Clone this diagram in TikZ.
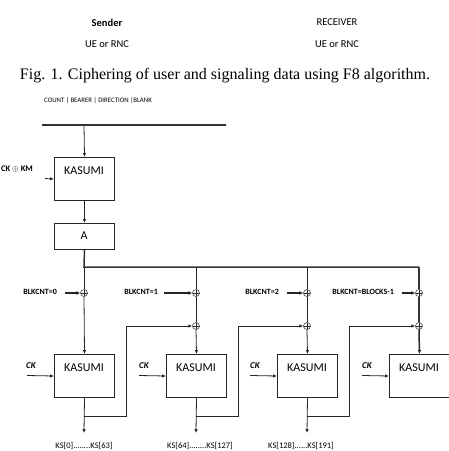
\documentclass[tikz,border=0pt]{standalone}
\usepackage{fontspec}
\setmainfont{Carlito}
\newfontfamily\capfont{Liberation Serif}
\usetikzlibrary{arrows.meta}
\begin{document}
\begin{tikzpicture}[x=1pt,y=-1pt,
  ln/.style={line width=0.8pt, draw=black!85},
  arr/.style={ln, -{Latex[length=4pt,width=3.5pt]}},
  thk/.style={line width=1.5pt, draw=black!80},
  kbox/.style={draw=black!85, line width=1pt, minimum width=60pt, minimum height=43pt, anchor=north west, inner sep=0pt},
  abox/.style={draw=black!85, line width=1pt, minimum width=60pt, minimum height=26pt, anchor=north west, inner sep=0pt},
  ktxt/.style={font=\fontsize{12}{13}\selectfont, inner sep=0pt},
  xorn/.style={draw=black!85, line width=0.5pt, circle, minimum size=7pt, inner sep=0pt,
     path picture={\draw[line width=0.5pt] (path picture bounding box.north) -- (path picture bounding box.south)
       (path picture bounding box.west) -- (path picture bounding box.east);}},
  blk/.style={font=\bfseries\fontsize{8}{9}\selectfont, inner sep=0pt, anchor=east},
  ck/.style={font=\bfseries\itshape\fontsize{9}{10}\selectfont, inner sep=0pt},
  ks/.style={font=\fontsize{8.5}{9}\selectfont, inner sep=0pt},
  hdr/.style={font=\fontsize{10.5}{11}\selectfont, inner sep=0pt},
  blkarr/.style={line width=1.3pt, draw=black!85, -{Latex[length=4pt,width=4pt]}}
]
\useasboundingbox[fill=white] (0,0) rectangle (449,451);

% header texts
\node[hdr] (snd) at (107,23) {\textbf{Sender}};
\node[hdr] (sue) at (107,44) {UE or RNC};
\node[hdr] (rcv) at (337,22) {RECEIVER};
\node[hdr] (rue) at (337,44) {UE or RNC};
\node[inner sep=0pt, font=\capfont\fontsize{16}{18}\selectfont] (cap) at (225,76) {Fig. 1. Ciphering of user and signaling data using F8 algorithm.};

% top part
\node[inner sep=0pt, font=\fontsize{6.8}{7}\selectfont] (cnt) at (98,101) {COUNT | BEARER | DIRECTION |BLANK};
\coordinate (tl) at (42,125);
\coordinate (tr) at (226,125);
\coordinate (t0) at (84,125);
\draw[thk] (tl) -- (tr);

\node[kbox] (k0) at (54,157) {};
\node[ktxt] (k0t) at (84,171) {KASUMI};
\draw[arr] (t0) -- (k0.north);

\node[inner sep=0pt, font=\bfseries\fontsize{8.5}{9}\selectfont] (ckkm) at (17,169) {CK $\oplus$ KM};
\coordinate (ckkms) at (45,178.5);
\draw[arr] (ckkms) -- (k0.west);

\node[abox] (A) at (54,223) {};
\node[ktxt] (At) at (84,236) {A};
\draw[arr] (k0.south) -- (A.north);

% bus
\coordinate (b0) at (84,267);
\coordinate (b1) at (196,267);
\coordinate (b2) at (307,267);
\coordinate (b3) at (419,267);
\draw[thk] (A.south) -- (b0) -- (b3);

% XOR nodes
\node[xorn] (x0) at (84,293) {};
\node[xorn] (x1a) at (196,293) {};
\node[xorn] (x1b) at (196,326) {};
\node[xorn] (x2a) at (307,293) {};
\node[xorn] (x2b) at (307,326) {};
\node[xorn] (x3a) at (419,293) {};
\node[xorn] (x3b) at (419,326) {};

\draw[ln] (b0) -- (x0.north);
\draw[ln] (b1) -- (x1a.north);
\draw[ln] (x1a.south) -- (x1b.north);
\draw[ln] (b2) -- (x2a.north);
\draw[ln] (x2a.south) -- (x2b.north);
\draw[thk] (b3) -- (x3a.north);
\draw[thk] (x3a.south) -- (x3b.north);

% bottom KASUMI boxes
\node[kbox] (k1) at (54,354) {};
\node[kbox] (k2) at (166,354) {};
\node[kbox] (k3) at (277,354) {};
\node[kbox] (k4) at (389,354) {};
\node[ktxt] (k1t) at (84,368) {KASUMI};
\node[ktxt] (k2t) at (196,368) {KASUMI};
\node[ktxt] (k3t) at (307,368) {KASUMI};
\node[ktxt] (k4t) at (419,368) {KASUMI};

\draw[arr] (x0.south) -- (k1.north);
\draw[arr] (x1b.south) -- (k2.north);
\draw[arr] (x2b.south) -- (k3.north);
\draw[arr, line width=1.5pt] (x3b.south) -- (k4.north);

% BLKCNT inputs
\node[blk] (bl0) at (57,292) {BLKCNT=0};
\node[blk] (bl1) at (158,292) {BLKCNT=1};
\node[blk] (bl2) at (279,292) {BLKCNT=2};
\node[blk] (bl3) at (394,292) {BLKCNT=BLOCKS-1};
\coordinate (bs0) at (65,293);
\coordinate (bs1) at (164,293);
\coordinate (bs2) at (287,293);
\coordinate (bs3) at (402,293);
\draw[blkarr] (bs0) -- (x0.west);
\draw[blkarr] (bs1) -- (x1a.west);
\draw[blkarr] (bs2) -- (x2a.west);
\draw[blkarr] (bs3) -- (x3a.west);

% CK inputs
\node[ck] (ck1) at (31,366) {CK};
\node[ck] (ck2) at (144,366) {CK};
\node[ck] (ck3) at (255,366) {CK};
\node[ck] (ck4) at (367,366) {CK};
\coordinate (cs1) at (27,375.5);
\coordinate (cs2) at (139,375.5);
\coordinate (cs3) at (250,375.5);
\coordinate (cs4) at (362,375.5);
\draw[arr] (cs1) -- (k1.west);
\draw[arr] (cs2) -- (k2.west);
\draw[arr] (cs3) -- (k3.west);
\draw[arr] (cs4) -- (k4.west);

% outputs and feedback
\coordinate (o1) at (84,433);
\coordinate (o2) at (196,433);
\coordinate (o3) at (307,433);
\draw[arr] (k1.south) -- (o1);
\draw[arr] (k2.south) -- (o2);
\draw[arr] (k3.south) -- (o3);
\node[ks] (ks1) at (84,446) {KS[0]........KS[63]};
\node[ks] (ks2) at (200,446) {KS[64]........KS[127]};
\node[ks] (ks3) at (301,446) {KS[128]......KS[191]};

\coordinate (j1) at (84,416);
\coordinate (j2) at (196,416);
\coordinate (j3) at (307,416);
\draw[arr] (j1) -- (126,416) -- (126,326) -- (x1b.west);
\draw[arr] (j2) -- (238,416) -- (238,326) -- (x2b.west);
\draw[arr] (j3) -- (349,416) -- (349,326) -- (x3b.west);
\end{tikzpicture}
\end{document}
